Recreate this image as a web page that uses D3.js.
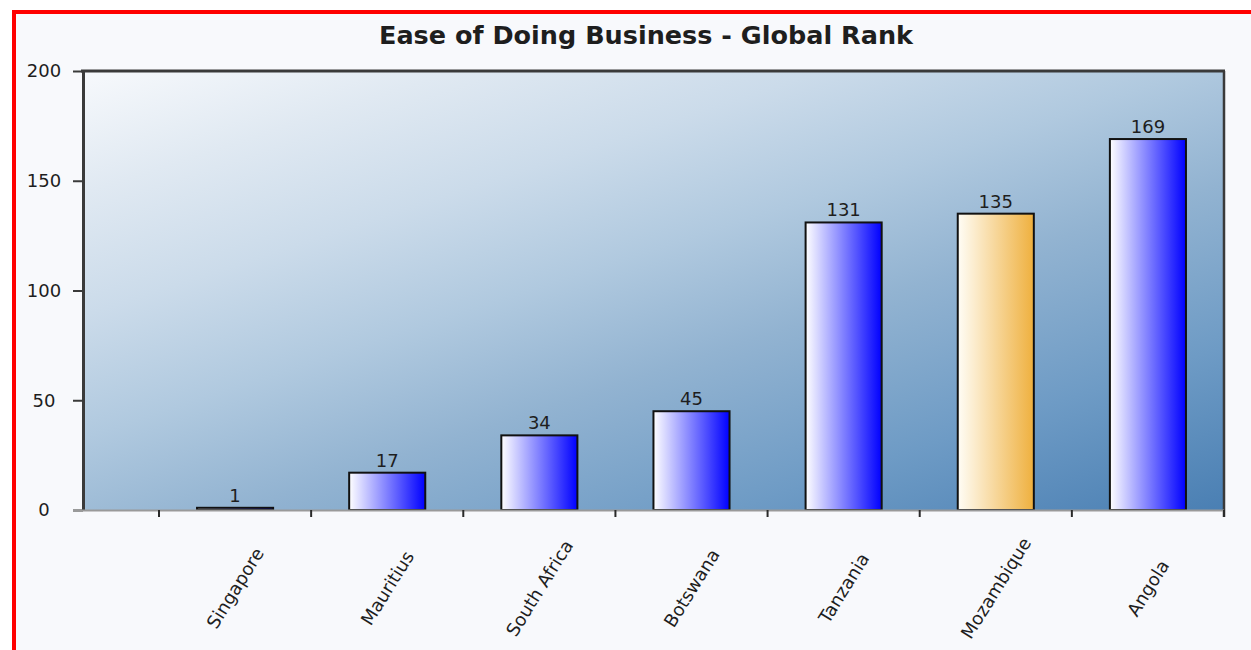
<!DOCTYPE html>
<html>
<head>
<meta charset="utf-8">
<script src="https://cdn.jsdelivr.net/npm/d3@7"></script>
<style>
  html, body { margin: 0; padding: 0; background: #ffffff; }
  svg { display: block; }
  text { font-family: "DejaVu Sans", sans-serif; fill: #1e1e1e; }
</style>
</head>
<body>
<svg id="chart" width="1251" height="650"></svg>
<script>
// Ease of Doing Business – global rank by country
const categories = ["Singapore", "Mauritius", "South Africa", "Botswana", "Tanzania", "Mozambique", "Angola"];
const ranks = [1, 17, 34, 45, 131, 135, 169];
const yTicks = [0, 50, 100, 150, 200];
const highlighted = "Mozambique";
const title = "Ease of Doing Business - Global Rank";

const svg = d3.select("#chart");
const W = 1251, H = 650;

// plot frame
const plot = { left: 83, right: 1224, top: 71, bottom: 510 };
const bandStart = 159; // half-band gap before the first category

const defs = svg.append("defs");

// backdrop gradient for the plot area (light top-left to steel blue bottom-right)
const dir = [0.33, 1];
const dlen = Math.hypot(dir[0], dir[1]);
const ux = dir[0] / dlen, uy = dir[1] / dlen;
const span = (plot.right - plot.left) * ux + (plot.bottom - plot.top) * uy;
const bg = defs.append("linearGradient")
  .attr("id", "plotBg")
  .attr("gradientUnits", "userSpaceOnUse")
  .attr("x1", plot.left).attr("y1", plot.top)
  .attr("x2", plot.left + ux * span).attr("y2", plot.top + uy * span);
[[0, "#f7f9fc"], [0.15, "#e0e9f2"], [0.3, "#cbdbea"], [0.45, "#b0c9df"],
 [0.6, "#92b3d1"], [0.8, "#6e9bc5"], [1, "#4a7fb3"]]
  .forEach(([o, c]) => bg.append("stop").attr("offset", o).attr("stop-color", c));

// bar fills
const blue = defs.append("linearGradient").attr("id", "barBlue")
  .attr("x1", 0).attr("y1", 0).attr("x2", 1).attr("y2", 0);
blue.append("stop").attr("offset", 0).attr("stop-color", "#ffffff");
blue.append("stop").attr("offset", 1).attr("stop-color", "#0000ff");

const orange = defs.append("linearGradient").attr("id", "barOrange")
  .attr("x1", 0).attr("y1", 0).attr("x2", 1).attr("y2", 0);
orange.append("stop").attr("offset", 0).attr("stop-color", "#fffdf6");
orange.append("stop").attr("offset", 1).attr("stop-color", "#efb03e");

// page panel with red outline
svg.append("rect")
  .attr("x", 14).attr("y", 12)
  .attr("width", W + 20).attr("height", H + 20)
  .attr("fill", "#f8f9fc")
  .attr("stroke", "#ff0000").attr("stroke-width", 4);

// title
svg.append("text")
  .attr("x", 646).attr("y", 44)
  .attr("text-anchor", "middle")
  .style("font-size", "25.5px").style("font-weight", "bold")
  .text(title);

// scales
const x = d3.scaleBand()
  .domain(categories)
  .range([bandStart, plot.right])
  .paddingInner(0.5)
  .paddingOuter(0.25);

const y = d3.scaleLinear()
  .domain([0, 200])
  .range([plot.bottom, plot.top]);

// plot background
svg.append("rect")
  .attr("x", plot.left).attr("y", plot.top)
  .attr("width", plot.right - plot.left).attr("height", plot.bottom - plot.top)
  .attr("fill", "url(#plotBg)");

// bars
const rows = categories.map((c, i) => ({ name: c, value: ranks[i] }));
svg.append("g").selectAll("rect")
  .data(rows)
  .join("rect")
  .attr("x", d => x(d.name))
  .attr("y", d => y(d.value))
  .attr("width", x.bandwidth())
  .attr("height", d => y(0) - y(d.value))
  .attr("fill", d => d.name === highlighted ? "url(#barOrange)" : "url(#barBlue)")
  .attr("stroke", "#111111")
  .attr("stroke-width", 2);

// value labels
svg.append("g").selectAll("text")
  .data(rows)
  .join("text")
  .attr("x", d => x(d.name) + x.bandwidth() / 2)
  .attr("y", d => y(d.value) - 6)
  .attr("text-anchor", "middle")
  .style("font-size", "18px")
  .text(d => d.value);

// frame: top and right edges
svg.append("line")
  .attr("x1", plot.left - 2).attr("x2", plot.right + 1)
  .attr("y1", plot.top).attr("y2", plot.top)
  .attr("stroke", "#3a3a3a").attr("stroke-width", 3);
svg.append("line")
  .attr("x1", plot.right).attr("x2", plot.right)
  .attr("y1", plot.top).attr("y2", plot.bottom + 7)
  .attr("stroke", "#3a3a3a").attr("stroke-width", 2.5);

// y axis
const yAxis = svg.append("g")
  .attr("transform", `translate(${plot.left},0)`)
  .call(d3.axisLeft(y).tickValues(yTicks).tickSize(10).tickSizeOuter(0));
yAxis.select(".domain").attr("stroke", "#3a3a3a").attr("stroke-width", 3);
yAxis.selectAll(".tick line").attr("stroke", "#3a3a3a").attr("stroke-width", 2);
yAxis.selectAll(".tick text")
  .attr("x", -39).attr("text-anchor", "middle")
  .style("font-size", "18px").style("font-family", "DejaVu Sans, sans-serif")
  .attr("fill", "#1e1e1e");

// x axis baseline
svg.append("line")
  .attr("x1", plot.left - 10).attr("x2", plot.right)
  .attr("y1", plot.bottom + 0.5).attr("y2", plot.bottom + 0.5)
  .attr("stroke", "#9a9a9a").attr("stroke-width", 2);

// x ticks at band boundaries
const step = x.step();
const gap = step * x.paddingInner() / 2;
const boundaries = categories.map(c => x(c) - gap).concat([plot.right]);
svg.append("g").selectAll("line")
  .data(boundaries)
  .join("line")
  .attr("x1", d => d).attr("x2", d => d)
  .attr("y1", plot.bottom).attr("y2", plot.bottom + 7)
  .attr("stroke", "#2a2a2a").attr("stroke-width", 2);

// rotated category labels, each centred under its bar
svg.append("g").selectAll("text")
  .data(categories)
  .join("text")
  .attr("text-anchor", "middle")
  .attr("dominant-baseline", "central")
  .attr("transform", d => `translate(${x(d) + x.bandwidth() / 2},588) rotate(-58)`)
  .style("font-size", "18px")
  .text(d => d);
</script>
</body>
</html>
